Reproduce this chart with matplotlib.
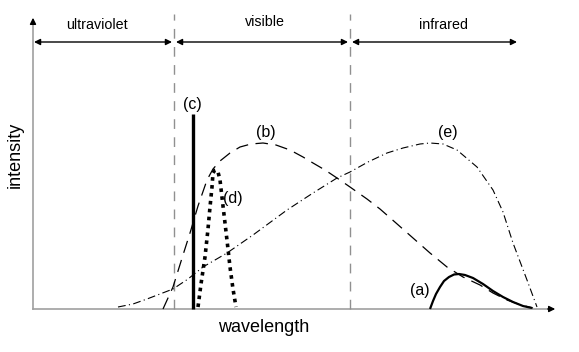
import matplotlib
matplotlib.use("Agg")
import matplotlib.pyplot as plt

plt.rcParams['font.family'] = ['Liberation Sans', 'DejaVu Sans']

# wavelength / intensity in arbitrary units (origin at the axes corner)
a_x = [397, 400, 403, 407, 411, 416, 421, 426, 432, 440, 450, 460, 470, 480, 490, 499]
a_y = [0, 8, 15, 22, 28, 32, 34.5, 35, 34, 31, 25, 18, 12, 7, 3, 1]

b_x = [130, 140, 150, 157, 165, 174, 180, 187, 197, 207, 218, 230, 243, 257, 270, 280,
       292, 304, 317, 334, 347, 363, 380, 397, 414, 430, 447, 460, 474, 488, 500]
b_y = [0, 22, 54, 76, 103, 129, 140, 148, 156, 162, 165, 166, 164, 159, 152, 146,
       139, 131, 122, 110, 100, 86, 71, 56, 42, 32, 24, 16, 9, 4, 1]

c_x = [160, 160]
c_y = [0, 195]

d_x = [165, 168, 172, 175, 177, 179, 180, 181.5, 183, 185, 187, 190, 192, 195, 197, 200, 203]
d_y = [2, 25, 52, 80, 102, 122, 136, 138.5, 139, 137, 129, 103, 86, 60, 42, 20, 2]

e_x = [85, 100, 114, 127, 140, 155, 170, 194, 220, 254, 280, 304, 317, 335, 354, 370,
       387, 397, 410, 424, 444, 460, 470, 480, 494, 504]
e_y = [2, 5, 10, 15, 20, 30, 42, 56, 74, 99, 116, 131, 137, 147, 156, 161,
       165, 166, 165, 159, 142, 119, 97, 66, 29, 2]

regions = ['ultraviolet', 'visible', 'infrared']
region_edges = [0, 141, 317, 485]
region_label_x = [64, 232, 410]
region_label_y = [284, 287, 284]

fig = plt.figure(figsize=(5.79, 3.52), dpi=100)
ax = fig.add_axes([0, 0, 1, 1])
ax.set_xlim(-33, 546)
ax.set_ylim(-43, 309)
ax.axis('off')

# axes with arrow heads
ax.plot([0, 0], [0, 288], color='#a0a0a0', lw=1.2)
ax.plot([0, 520], [0, 0], color='#a0a0a0', lw=1.2)
ax.annotate('', xy=(0, 294), xytext=(0, 284),
            arrowprops=dict(arrowstyle='-|>', color='black', lw=1, mutation_scale=9))
ax.annotate('', xy=(525, 0), xytext=(512, 0),
            arrowprops=dict(arrowstyle='-|>', color='black', lw=1, mutation_scale=9))

# region boundaries
for xb in region_edges[1:3]:
    ax.plot([xb, xb], [0, 295], color='#909090', lw=1, dashes=(7, 6))

# region arrows and labels
for i, name in enumerate(regions):
    x0 = region_edges[i] + (1 if i else 0)
    x1 = region_edges[i + 1] - (1 if i < 2 else 0)
    ax.annotate('', xy=(x0 + 1, 267), xytext=(x1 - 1, 267),
                arrowprops=dict(arrowstyle='<|-|>', color='black', lw=1,
                                mutation_scale=9, shrinkA=0, shrinkB=0))
    ax.text(region_label_x[i], region_label_y[i], name, fontsize=10.3,
            ha='center', va='center')

# spectra
ax.plot(a_x, a_y, color='black', lw=1.6, solid_capstyle='butt')
ax.plot(b_x, b_y, color='black', lw=0.9, dashes=(10, 6))
ax.plot(c_x, c_y, color='black', lw=2.4, solid_capstyle='butt')
ax.plot(d_x, d_y, color='black', lw=2.6, linestyle=(0, (1, 1.2)))
ax.plot(e_x, e_y, color='black', lw=0.8, dashes=(7, 3, 1, 3))

labels = ['(a)', '(b)', '(c)', '(d)', '(e)']
label_x = [387, 233, 159, 200, 415]
label_y = [18, 177, 205, 111, 176]
for t, lx, ly in zip(labels, label_x, label_y):
    ax.text(lx, ly, t, fontsize=11.5, ha='center', va='center')

ax.text(231, -18, 'wavelength', fontsize=13, ha='center', va='center')
ax.text(-18, 154, 'intensity', fontsize=13, ha='center', va='center', rotation=90)

fig.savefig('out.png', dpi=100)
